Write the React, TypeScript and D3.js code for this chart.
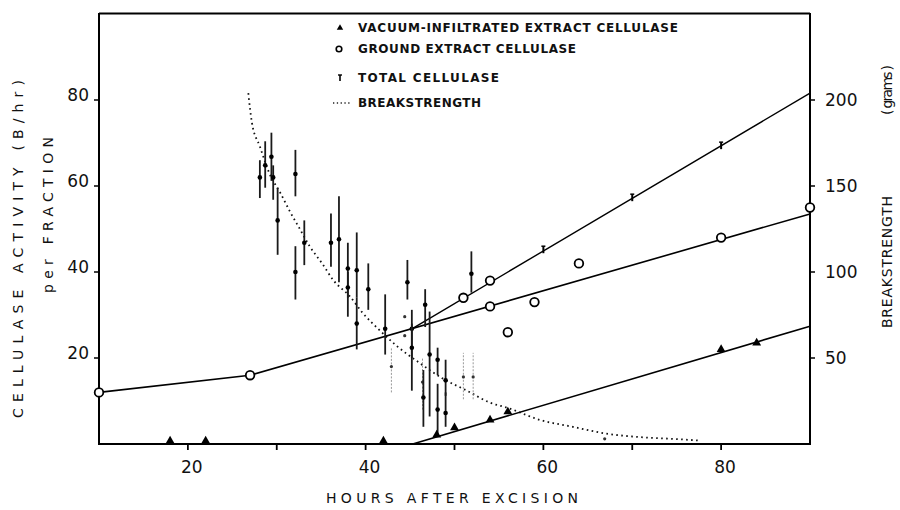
import React from 'react';
import * as d3 from 'd3';

// ---------- data ----------
const xTicks = [20, 30, 40, 50, 60, 70, 80];
const xTickLabels = [20, 40, 60, 80];
const yLeftTicks = [20, 40, 60, 80];
const yRightTicks = [50, 100, 150, 200];

// Ground extract cellulase (circles)
const groundHours = [10, 27, 51, 54, 54, 56, 59, 64, 80, 90];
const groundValues = [12, 16, 34, 38, 32, 26, 33, 42, 48, 55];

// Vacuum-infiltrated extract cellulase (triangles)
const vacuumHours = [18, 22, 42, 48, 50, 54, 56, 80, 84];
const vacuumValues = [0.7, 0.7, 0.7, 2.1, 3.8, 5.6, 7.5, 22, 23.5];

// Total cellulase (T markers)
const totalHours = [60, 70, 80];
const totalValues = [45.3, 57.4, 69.5];

// fitted lines
const groundFitHours = [10, 27, 90];
const groundFitValues = [12, 16, 53.5];
const totalFitHours = [45.3, 90];
const totalFitValues = [26.9, 81.6];
const vacuumFitHours = [45.3, 90];
const vacuumFitValues = [0, 27.4];

// Breakstrength curve (grams)
const breakHours = [26.8, 27.2, 28.1, 29.2, 30.4, 31.5, 32.6, 33.7, 35.1, 36.4, 38.2, 39.7, 41.6, 43.5, 46.1, 48.7, 51.4, 54, 56, 59.6, 63.3, 67.1, 70.9, 74.5, 77.6];
const breakGrams = [204, 187, 173, 157, 146, 135, 125, 115, 105, 95, 86, 76, 66, 57, 47, 38, 31, 24, 21, 14, 10, 6, 4, 3, 2];

// Breakstrength individual measurements (grams) with range
const scatterHours = [28.1, 28.7, 29.4, 29.6, 30.1, 32.1, 32.1, 33.1, 36.1, 37.0, 38.0, 38.0, 39.0, 39.0, 40.3, 42.2, 44.7, 45.2, 45.2, 46.7, 47.2, 46.5, 48.1, 48.1, 49.0, 49.0, 51.9];
const scatterGrams = [155, 162, 167, 155, 130, 157, 100, 117, 117, 119, 102, 91, 101, 70, 90, 67, 94, 67, 56, 81, 52, 27, 49, 20, 37, 18, 99];
const scatterLow = [143, 149, 153, 142, 110, 144, 84, 104, 103, 94, 85, 74, 85, 55, 78, 52, 84, 50, 31, 68, 16, 10, 40, 5, 28, 10, 88];
const scatterHigh = [165, 176, 181, 162, 149, 171, 115, 130, 134, 144, 117, 100, 123, 85, 105, 87, 107, 78, 70, 90, 77, 43, 56, 35, 49, 30, 112];

const faintHours = [44.4, 44.4, 51.0, 52.1, 66.9, 42.9, 46.4];
const faintGrams = [74, 63, 39, 39, 3, 45, 36];
const faintLow = [74, 63, 26, 26, 3, 30, 20];
const faintHigh = [74, 63, 53, 53, 3, 56, 50];

const legendLabels = [
  'VACUUM-INFILTRATED EXTRACT CELLULASE',
  'GROUND EXTRACT CELLULASE',
  'TOTAL CELLULASE',
  'BREAKSTRENGTH',
];

// ---------- scales ----------
const x = d3.scaleLinear().domain([10, 90]).range([99, 810]);
const y = d3.scaleLinear().domain([0, 100]).range([444, 14]);
const yR = d3.scaleLinear().domain([0, 250]).range([444, 14]);

const FONT = '"DejaVu Sans", "Liberation Sans", sans-serif';

export default function App() {
  const line = d3.line<[number, number]>().x((d) => x(d[0])).y((d) => y(d[1]));
  const breakLine = d3
    .line<[number, number]>()
    .x((d) => x(d[0]))
    .y((d) => yR(d[1]))
    .curve(d3.curveMonotoneX);

  const zip = (a: number[], b: number[]) => a.map((v, i) => [v, b[i]] as [number, number]);
  const triPath = d3.symbol().type(d3.symbolTriangle).size(34)() as string;
  const triSmall = d3.symbol().type(d3.symbolTriangle).size(18)() as string;

  const legendX = 340;
  const legendTextX = 358;
  const legendY = [28, 49, 78, 103];
  const legendLen = [320, 218, 141, 123];

  return (
    <svg width={900} height={510} style={{ position: 'absolute', left: 0, top: 0, background: '#fff' }} fontFamily={FONT}>
      <rect width={900} height={510} fill="#fff" />
      {/* frame */}
      <line x1={99} x2={810} y1={13.5} y2={13.5} stroke="#000" strokeWidth={2} />
      <line x1={99} x2={99} y1={13} y2={445} stroke="#000" strokeWidth={2} />
      <line x1={810} x2={810} y1={13} y2={445} stroke="#000" strokeWidth={2} />
      <line x1={98} x2={811} y1={444} y2={444} stroke="#000" strokeWidth={2} />

      {/* x ticks */}
      {xTicks.map((t) => (
        <line key={'xt' + t} x1={x(t)} x2={x(t)} y1={444} y2={450} stroke="#000" strokeWidth={1.8} />
      ))}
      {xTickLabels.map((t) => (
        <text key={'xl' + t} x={x(t) + 4} y={473} textAnchor="middle" fontSize={17} fill="#111">
          {t}
        </text>
      ))}
      {/* left ticks */}
      {yLeftTicks.map((t) => (
        <g key={'yl' + t}>
          <line x1={94} x2={99} y1={y(t)} y2={y(t)} stroke="#000" strokeWidth={1.5} />
          <text x={89} y={y(t) + 1} textAnchor="end" fontSize={17} fill="#111">
            {t}
          </text>
        </g>
      ))}
      {/* right ticks */}
      {yRightTicks.map((t) => (
        <g key={'yr' + t}>
          <line x1={810} x2={815} y1={yR(t)} y2={yR(t)} stroke="#000" strokeWidth={1.5} />
          <text x={825} y={yR(t) + 6} textAnchor="start" fontSize={17} fill="#111">
            {t}
          </text>
        </g>
      ))}

      {/* axis titles */}
      <text
        transform="translate(18,249) rotate(-90)"
        textAnchor="middle"
        dominantBaseline="central"
        fontSize={14}
        textLength={338}
        lengthAdjust="spacing"
        fill="#111"
      >
        CELLULASE ACTIVITY (B/hr)
      </text>
      <text
        transform="translate(48,215) rotate(-90)"
        textAnchor="middle"
        dominantBaseline="central"
        fontSize={14}
        textLength={156}
        lengthAdjust="spacing"
        fill="#111"
      >
        per FRACTION
      </text>
      <text
        transform="translate(887,262) rotate(-90)"
        textAnchor="middle"
        dominantBaseline="central"
        fontSize={14}
        textLength={132}
        lengthAdjust="spacing"
        fill="#111"
      >
        BREAKSTRENGTH
      </text>
      <text
        transform="translate(887,90) rotate(-90)"
        textAnchor="middle"
        dominantBaseline="central"
        fontSize={14}
        textLength={50}
        lengthAdjust="spacing"
        fill="#111"
      >
        ( grams )
      </text>
      <text x={452} y={503} textAnchor="middle" fontSize={14} textLength={252} lengthAdjust="spacing" fill="#111">
        HOURS  AFTER  EXCISION
      </text>

      {/* breakstrength curve */}
      <path
        d={breakLine(zip(breakHours, breakGrams)) as string}
        fill="none"
        stroke="#111"
        strokeWidth={1.8}
        strokeDasharray="1.6,3.4"
      />

      {/* fitted lines */}
      <path d={line(zip(groundFitHours, groundFitValues)) as string} fill="none" stroke="#000" strokeWidth={1.6} />
      <path d={line(zip(totalFitHours, totalFitValues)) as string} fill="none" stroke="#000" strokeWidth={1.4} />
      <path d={line(zip(vacuumFitHours, vacuumFitValues)) as string} fill="none" stroke="#000" strokeWidth={1.6} />

      {/* breakstrength measurements */}
      {faintHours.map((h, i) => (
        <g key={'f' + i}>
          <line x1={x(h)} x2={x(h)} y1={yR(faintLow[i])} y2={yR(faintHigh[i])} stroke="#999" strokeWidth={1} strokeDasharray="2,1.5" />
          <circle cx={x(h)} cy={yR(faintGrams[i])} r={1.6} fill="#333" />
        </g>
      ))}
      {scatterHours.map((h, i) => (
        <g key={'s' + i}>
          <line x1={x(h)} x2={x(h)} y1={yR(scatterLow[i])} y2={yR(scatterHigh[i])} stroke="#1a1a1a" strokeWidth={1.8} />
          <circle cx={x(h)} cy={yR(scatterGrams[i])} r={2.3} fill="#000" />
        </g>
      ))}

      {/* ground circles */}
      {groundHours.map((h, i) => (
        <circle key={'g' + i} cx={x(h)} cy={y(groundValues[i])} r={4.3} fill="#fff" stroke="#000" strokeWidth={1.8} />
      ))}
      {/* vacuum triangles */}
      {vacuumHours.map((h, i) => (
        <path key={'v' + i} d={triPath} transform={`translate(${x(h)},${y(vacuumValues[i])})`} fill="#000" />
      ))}
      {/* total markers */}
      {totalHours.map((h, i) => (
        <g key={'t' + i} transform={`translate(${x(h)},${y(totalValues[i])})`}>
          <line x1={0} x2={0} y1={-3} y2={4} stroke="#000" strokeWidth={2} />
          <line x1={-2} x2={2} y1={-3} y2={-3} stroke="#000" strokeWidth={1.5} />
        </g>
      ))}

      {/* legend */}
      <path d={triSmall} transform={`translate(${legendX},${legendY[0]})`} fill="#000" />
      <circle cx={legendX - 1} cy={legendY[1]} r={2.8} fill="#fff" stroke="#000" strokeWidth={1.6} />
      <g transform={`translate(${legendX},${legendY[2]})`}>
        <line x1={0} x2={0} y1={-3} y2={3} stroke="#000" strokeWidth={1.6} />
        <line x1={-2} x2={2} y1={-3} y2={-3} stroke="#000" strokeWidth={1.4} />
      </g>
      <line x1={333} x2={352} y1={legendY[3]} y2={legendY[3]} stroke="#222" strokeWidth={1.4} strokeDasharray="1.3,2.5" />
      {legendLabels.map((l, i) => (
        <text
          key={'lg' + i}
          x={legendTextX}
          y={legendY[i]}
          dominantBaseline="central"
          fontSize={12}
          fontWeight="bold"
          textLength={legendLen[i]}
          lengthAdjust="spacing"
          fill="#111"
        >
          {l}
        </text>
      ))}
    </svg>
  );
}
